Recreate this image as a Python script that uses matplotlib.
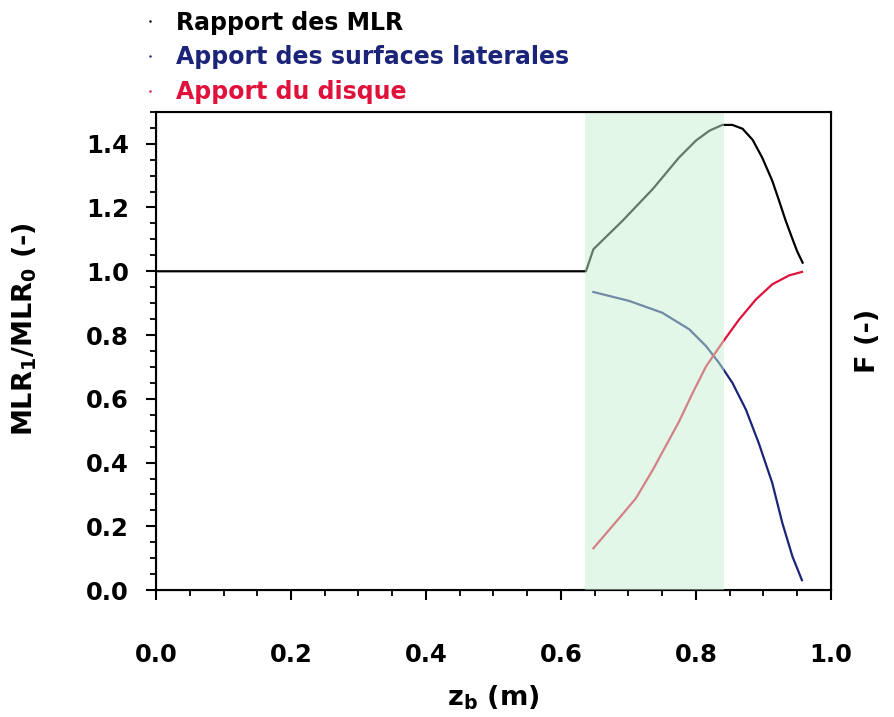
import numpy as np
import matplotlib
matplotlib.use("Agg")
import matplotlib.pyplot as plt
from matplotlib.lines import Line2D

plt.rcParams['font.family'] = ['DejaVu Sans']
plt.rcParams['font.weight'] = 'bold'
plt.rcParams['axes.labelweight'] = 'bold'
plt.rcParams['mathtext.fontset'] = 'dejavusans'
plt.rcParams['mathtext.default'] = 'bf'

# rapport des MLR (courbe noire)
z_mlr = [0.0, 0.637, 0.648, 0.691, 0.736, 0.775, 0.800, 0.820, 0.839, 0.854,
         0.869, 0.884, 0.898, 0.913, 0.923, 0.933, 0.943, 0.950, 0.958]
mlr = [1.0, 1.0, 1.069, 1.158, 1.258, 1.357, 1.410, 1.441, 1.459, 1.459,
       1.447, 1.412, 1.357, 1.284, 1.222, 1.158, 1.101, 1.062, 1.027]

# apport des surfaces laterales
z_lat = [0.648, 0.701, 0.750, 0.790, 0.815, 0.834, 0.854, 0.874, 0.893,
         0.913, 0.928, 0.943, 0.957]
f_lat = [0.935, 0.907, 0.870, 0.818, 0.765, 0.713, 0.650, 0.566, 0.461,
         0.336, 0.210, 0.105, 0.031]

# apport du disque
z_disq = [0.648, 0.686, 0.711, 0.736, 0.755, 0.775, 0.795, 0.815, 0.839,
          0.864, 0.889, 0.913, 0.938, 0.957]
f_disq = [0.131, 0.225, 0.288, 0.377, 0.451, 0.529, 0.618, 0.702, 0.776,
          0.849, 0.912, 0.959, 0.987, 0.998]

zone = (0.635, 0.842)

c_mlr = 'black'
c_lat = '#1b2478'
c_disq = '#e0123c'

fig = plt.figure(figsize=(8.94, 7.17), dpi=100)
ax = fig.add_axes([0.1745, 0.177, 0.755, 0.667])

ax.plot(z_mlr, mlr, color=c_mlr, lw=1.6, zorder=2)
ax.plot(z_lat, f_lat, color=c_lat, lw=1.6, zorder=2)
ax.plot(z_disq, f_disq, color=c_disq, lw=1.6, zorder=2)
# zone en vert clair par-dessus les courbes
ax.axvspan(zone[0], zone[1], color='#c8f0d2', alpha=0.5, lw=0, zorder=3)

ax.set_xlim(0, 1.0)
ax.set_ylim(0, 1.5)
ax.set_xticks(np.arange(0, 1.01, 0.2))
ax.set_xticks(np.arange(0, 1.01, 0.05), minor=True)
ax.set_yticks(np.arange(0, 1.41, 0.2))
ax.set_yticks(np.arange(0, 1.51, 0.05), minor=True)
ax.xaxis.set_major_formatter(matplotlib.ticker.FormatStrFormatter('%.1f'))
ax.yaxis.set_major_formatter(matplotlib.ticker.FormatStrFormatter('%.1f'))

ax.tick_params(axis='both', which='major', direction='out', length=7, width=1.5,
               labelsize=17.5)
ax.tick_params(axis='both', which='minor', direction='out', length=4, width=1.3)
ax.tick_params(axis='x', which='major', pad=31)
ax.tick_params(axis='y', which='major', pad=12.5)
for s in ax.spines.values():
    s.set_linewidth(1.5)

ax.set_xlabel('z$_b$ (m)', fontsize=19.5, labelpad=12)
ax.set_ylabel('MLR$_1$/MLR$_0$ (-)', fontsize=19.5)
ax.yaxis.set_label_coords(-0.173, 0.546)

ax2 = ax.twinx()
ax2.set_ylim(0, 1.5)
ax2.set_yticks([])
ax2.set_ylabel('F (-)', fontsize=19.5)
ax2.yaxis.set_label_coords(1.036, 0.521)

handles = [Line2D([], [], marker='.', markersize=1.5, ls='none', color=c)
           for c in (c_mlr, c_lat, c_disq)]
labels = ['Rapport des MLR', 'Apport des surfaces laterales', 'Apport du disque']
fig.legend(handles, labels, loc='upper left', bbox_to_anchor=(0.160, 0.985),
           frameon=False, fontsize=17, labelcolor=[c_mlr, c_lat, c_disq],
           handlelength=0.6, handletextpad=0.8, labelspacing=0.45,
           borderaxespad=0.0, borderpad=0.0)

fig.savefig('out.png', dpi=100)
